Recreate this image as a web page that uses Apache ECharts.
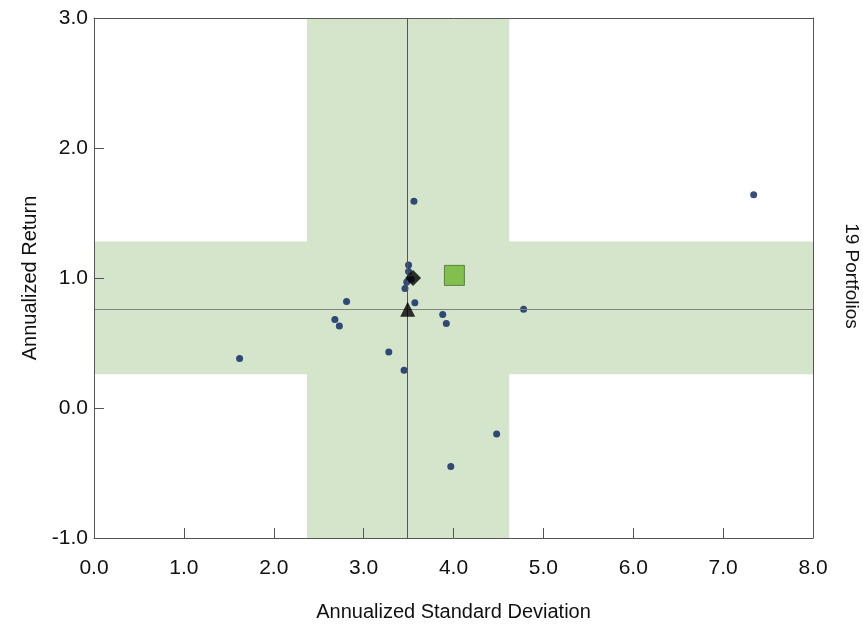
<!DOCTYPE html>
<html>
<head>
<meta charset="utf-8">
<script src="https://cdn.jsdelivr.net/npm/echarts@6/dist/echarts.min.js"></script>
<style>html,body{margin:0;padding:0;background:#fff}#c{width:863px;height:629px}</style>
</head>
<body>
<div id="c"></div>
<script>
// Portfolio data (annualized standard deviation, annualized return)
const portfolioSD  = [3.56, 3.50, 3.50, 3.48, 3.53, 3.46, 2.81, 3.57, 2.68, 2.73, 3.88, 3.92, 3.28, 3.45, 1.62, 4.48, 3.97, 7.34, 4.78];
const portfolioRet = [1.59, 1.10, 1.05, 0.97, 0.99, 0.92, 0.82, 0.81, 0.68, 0.63, 0.72, 0.65, 0.43, 0.29, 0.38, -0.20, -0.45, 1.64, 0.76];
// Reference markers
const triangleMark = [3.49, 0.76];
const diamondMark  = [3.55, 1.00];
const squareMark   = [4.01, 1.02];
// Bands and center lines
const sdBand  = [2.37, 4.62];
const retBand = [0.26, 1.28];
const sdCenter  = 3.49;
const retCenter = 0.76;
// Axis ticks
const xTicks = [0, 1, 2, 3, 4, 5, 6, 7, 8];
const yTicks = [-1, 0, 1, 2, 3];
const portfolioCountLabel = portfolioSD.length + ' Portfolios';

const FONT = '"Liberation Sans", Arial, sans-serif';
const chart = echarts.init(document.getElementById('c'), null, {renderer: 'canvas'});
const pts = portfolioSD.map((x, i) => [x, portfolioRet[i]]);

const tickStyle = {show: true, inside: true, length: 10, lineStyle: {color: '#555'}};
const lineStyleAxis = {show: true, onZero: false, lineStyle: {color: '#555', width: 1}};
const nameStyle = {fontFamily: FONT, fontSize: 20, color: '#111'};

chart.setOption({
  animation: false,
  backgroundColor: '#fff',
  grid: {left: 94, right: 50, top: 18, bottom: 91, show: false},
  xAxis: [
    {
      type: 'value', z: 10, min: xTicks[0], max: xTicks[xTicks.length - 1], interval: 1,
      name: 'Annualized Standard Deviation', nameLocation: 'middle', nameGap: 64, nameTextStyle: nameStyle,
      axisLine: lineStyleAxis, axisTick: tickStyle, splitLine: {show: false},
      axisLabel: {fontFamily: FONT, fontSize: 21, color: '#111', margin: 20, formatter: v => v.toFixed(1)}
    },
    {type: 'value', position: 'top', min: 0, max: 8, z: 10,
     axisLine: lineStyleAxis, axisTick: {show: false}, axisLabel: {show: false}, splitLine: {show: false}}
  ],
  yAxis: [
    {
      type: 'value', z: 10, min: yTicks[0], max: yTicks[yTicks.length - 1], interval: 1,
      name: 'Annualized Return', nameLocation: 'middle', nameGap: 54, nameRotate: 90, nameTextStyle: nameStyle,
      axisLine: lineStyleAxis, axisTick: tickStyle, splitLine: {show: false},
      axisLabel: {fontFamily: FONT, fontSize: 21, color: '#111', margin: 6, formatter: v => v.toFixed(1)}
    },
    {type: 'value', position: 'right', min: -1, max: 3, z: 10,
     axisLine: lineStyleAxis, axisTick: {show: false}, axisLabel: {show: false}, splitLine: {show: false}}
  ],
  graphic: [{
    type: 'text', x: 851, y: 276, rotation: -Math.PI / 2,
    style: {text: portfolioCountLabel, fontFamily: FONT, fontSize: 19, fill: '#111', align: 'center', verticalAlign: 'middle'}
  }],
  series: [
    {
      type: 'scatter', data: [], z: 1, silent: true,
      markArea: {
        silent: true,
        itemStyle: {color: '#d4e5cc', opacity: 1, borderWidth: 0},
        data: [
          [{xAxis: sdBand[0]}, {xAxis: sdBand[1]}],
          [{yAxis: retBand[0]}, {yAxis: retBand[1]}]
        ]
      }
    },
    {
      type: 'scatter', data: [], z: 3, silent: true,
      markLine: {
        silent: true, symbol: ['none', 'none'], label: {show: false},
        lineStyle: {type: 'solid', width: 1, color: '#555'},
        data: [{xAxis: sdCenter}, {yAxis: retCenter, lineStyle: {color: '#7d867d'}}]
      }
    },
    {
      type: 'scatter', z: 4, symbol: 'circle', symbolSize: 7,
      itemStyle: {color: '#06215e'},
      data: pts
    },
    {
      type: 'scatter', z: 5, symbol: 'diamond', symbolSize: 16,
      itemStyle: {color: '#000'},
      data: [diamondMark]
    },
    {
      type: 'scatter', z: 5, symbol: 'triangle', symbolSize: 15,
      itemStyle: {color: '#000'},
      data: [triangleMark]
    },
    {
      type: 'scatter', z: 5, symbol: 'rect', symbolSize: 20,
      itemStyle: {color: '#6bb52e', borderColor: '#4d6a35', borderWidth: 1},
      data: [squareMark]
    }
  ]
});
</script>
</body>
</html>
